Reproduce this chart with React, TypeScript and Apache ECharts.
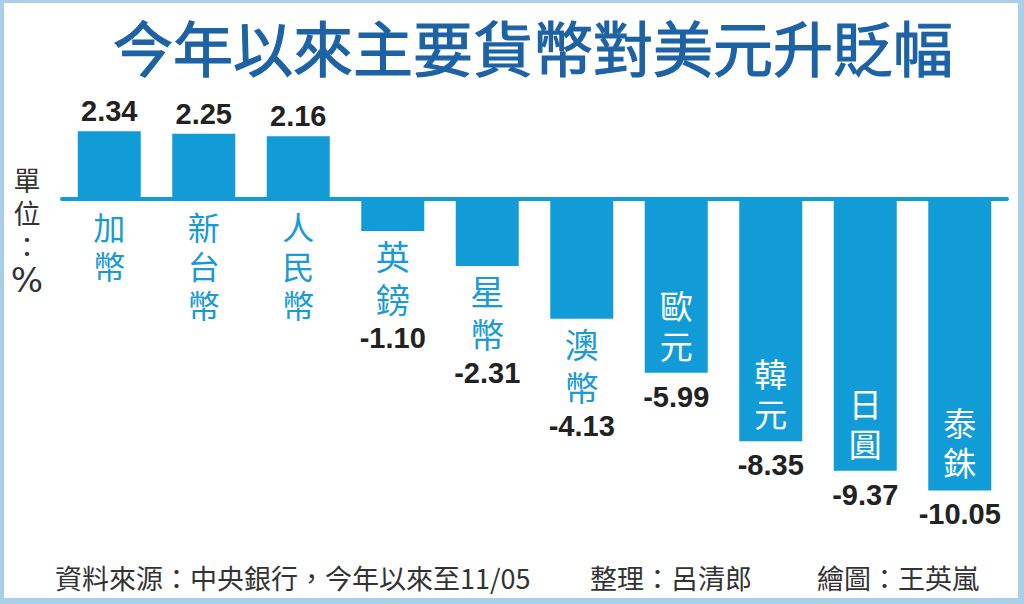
import React, { useEffect, useRef } from "react";
import * as echarts from "echarts";

const titleText = "今年以來主要貨幣對美元升貶幅";
const categories = ["加幣", "新台幣", "人民幣", "英鎊", "星幣", "澳幣", "歐元", "韓元", "日圓", "泰銖"];
const changes = [2.34, 2.25, 2.16, -1.1, -2.31, -4.13, -5.99, -8.35, -9.37, -10.05];
const unitChars = ["單", "位", "："];
const unitSymbol = "%";
const sourceText = "資料來源：中央銀行，今年以來至11/05";
const editorText = "整理：呂清郎";
const artistText = "繪圖：王英嵐";

const BLUE = "#119cd8";
const NAME_BLUE = "#1a9ad6";
const TITLE_BLUE = "#1d62a5";
const BORDER = "#a9d0e8";
const CJK = '"Noto Sans CJK TC", "Noto Sans CJK SC", sans-serif';
const NUM = '"Liberation Sans", Arial, sans-serif';
const INSIDE_LIMIT = 5;

const vertical = (s: string) => s.split("").join("\n");
const fmt = (v: number) => v.toFixed(2);

export default function App() {
  const ref = useRef<HTMLDivElement>(null);

  useEffect(() => {
    if (!ref.current) return;
    const chart = echarts.init(ref.current, undefined, { renderer: "svg" });

    const rich = {
      n: { fontSize: 34, lineHeight: 43, color: NAME_BLUE, fontFamily: CJK },
      v: { fontSize: 29, lineHeight: 36, color: "#222", fontFamily: NUM, fontWeight: "bold" as const },
    };

    const mainData = changes.map((v, i) => {
      if (v >= 0) {
        return {
          value: v,
          label: { show: true, position: "top" as const, distance: 2, formatter: `{v|${fmt(v)}}`, rich },
        };
      }
      if (-v <= INSIDE_LIMIT) {
        const names = categories[i].split("").map((c) => `{n|${c}}`).join("\n");
        return {
          value: v,
          label: { show: true, position: "bottom" as const, distance: 3, formatter: `${names}\n{v|${fmt(v)}}`, rich },
        };
      }
      return {
        value: v,
        label: { show: true, position: "bottom" as const, distance: 6, formatter: `{v|${fmt(v)}}`, rich },
      };
    });

    const nameData = changes.map((v, i) => {
      if (v >= 0) {
        return {
          value: v,
          label: {
            show: true,
            position: "bottom" as const,
            distance: 7,
            formatter: vertical(categories[i]),
            color: NAME_BLUE,
            fontSize: 32,
            lineHeight: 39,
            fontFamily: CJK,
          },
        };
      }
      if (-v > INSIDE_LIMIT) {
        return {
          value: v,
          label: {
            show: true,
            position: "insideBottom" as const,
            distance: 8,
            formatter: vertical(categories[i]),
            color: "#ffffff",
            fontSize: 33,
            lineHeight: 40,
            fontFamily: CJK,
          },
        };
      }
      return { value: v, label: { show: false } };
    });

    const unitTexts = unitChars.map((c, i) => ({
      type: "text",
      x: 27,
      y: 179 + i * 33,
      style: {
        text: c,
        fill: "#333",
        fontSize: 27,
        fontFamily: CJK,
        align: "center",
        verticalAlign: "middle",
      },
    }));

    chart.setOption({
      animation: false,
      backgroundColor: "#ffffff",
      grid: { left: 62, right: 17, top: 112, bottom: 86 },
      xAxis: {
        type: "category",
        data: categories,
        axisLine: { onZero: true, lineStyle: { color: BLUE, width: 4 } },
        axisTick: { show: false },
        axisLabel: { show: false },
      },
      yAxis: {
        type: "value",
        min: -11,
        max: 3,
        show: false,
        splitLine: { show: false },
      },
      series: [
        {
          type: "bar",
          data: mainData,
          barWidth: 63,
          itemStyle: { color: BLUE },
          z: 2,
        },
        {
          type: "bar",
          data: nameData,
          barWidth: 63,
          barGap: "-100%",
          silent: true,
          itemStyle: { color: "rgba(0,0,0,0)" },
          z: 3,
        },
      ],
      graphic: [
        { type: "rect", shape: { x: 0, y: 0, width: 1024, height: 3 }, style: { fill: BORDER } },
        { type: "rect", shape: { x: 0, y: 598, width: 1024, height: 6 }, style: { fill: BORDER } },
        { type: "rect", shape: { x: 0, y: 0, width: 4, height: 604 }, style: { fill: BORDER } },
        { type: "rect", shape: { x: 1018, y: 0, width: 6, height: 604 }, style: { fill: BORDER } },
        {
          type: "text",
          x: 533,
          y: 45,
          style: {
            text: titleText,
            fill: TITLE_BLUE,
            fontSize: 60,
            fontWeight: "normal",
            fontFamily: CJK,
            align: "center",
            verticalAlign: "middle",
            stroke: TITLE_BLUE,
            lineWidth: 1.2,
          },
        },
        ...unitTexts,
        {
          type: "text",
          x: 27,
          y: 280,
          style: {
            text: unitSymbol,
            fill: "#333",
            fontSize: 34,
            fontFamily: '"DejaVu Sans", sans-serif',
            align: "center",
            verticalAlign: "middle",
          },
        },
        {
          type: "text",
          x: 55,
          y: 577,
          style: { text: sourceText, fill: "#333", fontSize: 27, fontFamily: CJK, align: "left", verticalAlign: "middle" },
        },
        {
          type: "text",
          x: 590,
          y: 577,
          style: { text: editorText, fill: "#333", fontSize: 27, fontFamily: CJK, align: "left", verticalAlign: "middle" },
        },
        {
          type: "text",
          x: 817,
          y: 577,
          style: { text: artistText, fill: "#333", fontSize: 27, fontFamily: CJK, align: "left", verticalAlign: "middle" },
        },
      ],
    });

    return () => chart.dispose();
  }, []);

  return (
    <div style={{ position: "fixed", left: 0, top: 0, width: 1024, height: 604, background: "#fff" }}>
      <div ref={ref} style={{ width: 1024, height: 604 }} />
    </div>
  );
}
